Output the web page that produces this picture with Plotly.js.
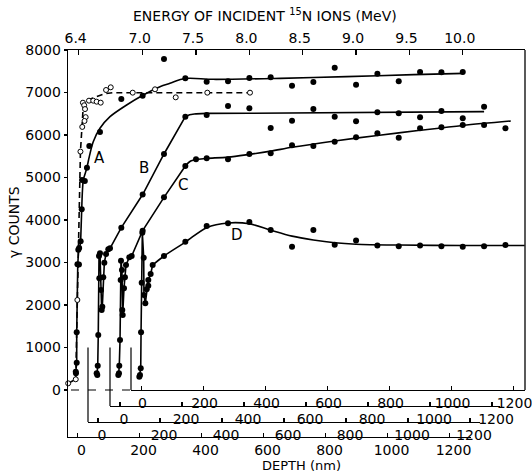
<!DOCTYPE html>
<html><head><meta charset="utf-8">
<script src="https://cdn.plot.ly/plotly-3.0.1.min.js"></script>
<style>html,body{margin:0;padding:0;background:#fff}#chart{width:532px;height:472px}</style>
</head><body><div id="chart"></div>
<script>
// ---------- data: incident energy (MeV) vs gamma counts ----------
// Curve A (filled points)
const aE = [6.373,6.375,6.382,6.382,6.389,6.403,6.397,6.405,6.419,6.429,6.432,6.458,6.478,6.500,6.600,6.800,7.000,7.200,7.400,7.600,7.800,8.000,8.200,8.400,8.600,8.800,9.000,9.200,9.400,9.600,9.800,10.000];
const aC = [430,395,643,1357,2960,2950,3300,3340,3500,4251,4940,4920,5231,5741,6071,6847,6925,7788,7333,7255,7263,7341,7357,7161,7247,7584,7184,7443,7263,7482,7475,7482];
const aEdgeE = [6.373,6.382,6.382,6.386,6.392,6.400,6.410,6.419,6.429];
const aEdgeC = [420,643,1357,2110,2960,3300,3350,3500,4251];
const aFitE = [6.429,6.436,6.444,6.476,6.500,6.537,6.600,6.694,6.850,7.006,7.162,7.256,7.397,7.66,8.29,8.91,9.54,10.01];
const aFitC = [4251,4700,4941,5216,5490,5842,6158,6431,6706,6941,7137,7216,7329,7310,7333,7373,7420,7451];
// Open circles and dashed curve
const oE = [6.302,6.373,6.388,6.417,6.434,6.440,6.452,6.460,6.466,6.455,6.497,6.537,6.569,6.607,6.657,6.701,6.907,7.116,7.310,7.606,8.006];
const oC = [157,252,2118,5610,6190,6760,6700,6610,6420,6330,6808,6808,6784,6761,7059,7122,6996,7075,6886,6996,6996];
const dashE = [6.302,6.373,6.388,6.417,6.434,6.445,6.49,6.56,6.64,6.72,8.006];
const dashC = [157,252,2118,5610,6300,6750,6830,6900,6970,6995,6995];
// Curve B
const bE = [6.569,6.575,6.579,6.584,6.594,6.591,6.600,6.610,6.616,6.622,6.631,6.641,6.657,6.678,6.694,6.800,7.000,7.200,7.400,7.600,7.800,8.000,8.200,8.400,8.600,8.800,9.000,9.200,9.400,9.600,9.800,10.000,10.200];
const bC = [392,353,573,1294,2627,3153,3216,2353,1882,1961,2651,2996,3200,3310,3333,3820,4600,5553,6431,6471,6682,6627,6165,6337,6612,6431,6322,6534,6510,6416,6565,6392,6667];
const bLineE = [6.572,6.579,6.584,6.591,6.600,6.610,6.616,6.622,6.631,6.641,6.657,6.678,6.694,6.800,7.000,7.200,7.400,7.440,7.500,7.600,8.000,9.000,10.200];
const bLineC = [370,573,1294,3153,3216,2353,1882,1961,2651,2996,3200,3310,3333,3820,4600,5553,6431,6478,6498,6508,6512,6525,6550];
// Curve C
const cE = [6.772,6.778,6.781,6.788,6.794,6.797,6.806,6.809,6.813,6.825,6.834,6.844,6.875,6.897,7.000,7.200,7.400,7.500,7.600,7.800,8.000,8.200,8.400,8.600,8.800,9.000,9.200,9.400,9.600,9.800,10.000,10.200,10.400];
const cC = [353,392,573,1176,2588,3043,2824,1882,1765,2392,2651,2941,3122,3153,3749,4533,5271,5427,5451,5427,5553,5569,5757,5741,5843,5945,6039,5937,6157,6180,6235,6235,6157];
const cEdgeE = [6.775,6.781,6.788,6.794,6.797,6.806,6.813,6.825,6.834,6.844,6.875,6.897,7.000,7.200,7.400];
const cEdgeC = [370,573,1176,2588,3043,2824,1765,2392,2651,2941,3122,3153,3749,4533,5271];
const cFitE = [7.400,7.45,7.52,7.6,7.8,8.0,8.2,8.4,8.8,9.2,9.6,10.0,10.45];
const cFitC = [5271,5390,5430,5450,5480,5545,5620,5710,5860,5990,6110,6225,6330];
// Curve D
const dE = [6.969,6.975,6.982,6.985,6.991,6.997,7.010,7.012,7.025,7.038,7.053,7.053,7.075,7.094,7.200,7.400,7.600,7.800,8.000,8.200,8.400,8.600,8.800,9.000,9.200,9.400,9.600,9.800,10.000,10.200,10.400];
const dC = [314,353,510,1357,2525,3700,3110,2235,2039,2369,2450,2588,2730,2941,3153,3490,3859,3922,3953,3765,3373,3765,3420,3520,3400,3380,3400,3380,3370,3380,3410];
const dEdgeE = [6.969,6.982,6.985,6.991,6.997,7.010,7.012,7.025,7.038,7.053,7.075,7.094];
const dEdgeC = [314,510,1357,2525,3700,3110,2235,2039,2369,2588,2730,2941];
const dFitE = [7.094,7.2,7.4,7.6,7.8,8.0,8.2,8.4,8.6,8.8,9.0,9.4,10.0,10.58];
const dFitC = [2941,3153,3480,3820,3930,3910,3760,3620,3530,3465,3430,3410,3400,3400];
// curve labels
const labelText = ['A','B','C','D'];
const labelE = [6.591,7.013,7.378,7.884];
const labelC = [5459,5224,4824,3647];
// axes
const energyTicks = [6.4,7.0,7.5,8.0,8.5,9.0,9.5,10.0];
const energyTickText = ['6.4','7.0','7.5','8.0','8.5','9.0','9.5','10.0'];
const countTicks = [0,1000,2000,3000,4000,5000,6000,7000,8000];
const depthTicks = [0,200,400,600,800,1000,1200];

// ---------- geometry ----------
const E0 = 6.3004, E1 = 10.5834;
const Y0 = -1106, Y1 = 8000;
const pos = v => (v - Y0) / (Y1 - Y0);
const levelB = -753, levelC = -376, levelD = 0;
const black = '#000';

function markers(x, y, open) {
  return {type:'scatter', mode:'markers', x, y, xaxis:'x', yaxis:'y', cliponaxis:false,
    marker:{size: open ? 5 : 6, color: open ? '#fff' : black, line:{color:black, width: open ? 1 : 0}},
    showlegend:false, hoverinfo:'skip'};
}
function line(x, y, shape, dash) {
  return {type:'scatter', mode:'lines', x, y, xaxis:'x', yaxis:'y',
    line:{color:black, width:1.6, shape: shape || 'linear', smoothing:0.9, dash: dash || 'solid'},
    showlegend:false, hoverinfo:'skip'};
}
function dummy(ax) { return {type:'scatter', mode:'markers', x:[0], y:[null], xaxis:ax, yaxis:'y', showlegend:false, hoverinfo:'skip'}; }

const traces = [
  line(dashE, dashC, 'linear', '6px,4px'),
  line(aEdgeE, aEdgeC), line(aFitE, aFitC, 'spline'),
  line(bLineE, bLineC),
  line(cEdgeE, cEdgeC), line(cFitE, cFitC, 'spline'),
  line(dEdgeE, dEdgeC), line(dFitE, dFitC, 'spline'),
  markers(oE, oC, true),
  markers(aE, aC), markers(bE, bC), markers(cE, cC), markers(dE, dC),
  dummy('x2'), dummy('x3'), dummy('x4'), dummy('x5')
];

const axCommon = {showgrid:false, zeroline:false, showline:true, linecolor:black, linewidth:1.3,
  tickcolor:black, tickwidth:1.2, fixedrange:true, tickfont:{size:14, color:black}};
const px2paper = px => (px - 68) / 457;

function depthAxis(dom0, dom1, zeroPx, extra) {
  const r0 = (dom0 - zeroPx) / 0.31, r1 = (dom1 - zeroPx) / 0.31;
  return Object.assign({}, axCommon, {domain:[px2paper(dom0), px2paper(dom1)], range:[r0, r1],
    side:'bottom', tickmode:'array', tickvals:depthTicks, ticks:'inside', ticklen:4, ticklabelshift:4,
    ticklabeloverflow:'allow'}, extra);
}

const layout = {
  width:532, height:472, margin:{l:68, r:7, t:50, b:35, pad:0},
  paper_bgcolor:'#fff', plot_bgcolor:'rgba(0,0,0,0)',
  font:{family:'DejaVu Sans, sans-serif', size:14, color:black},
  showlegend:false,
  xaxis: Object.assign({}, axCommon, {domain:[0,1], range:[E0,E1], side:'top', anchor:'y',
    tickmode:'array', tickvals:energyTicks, ticktext:energyTickText, ticks:'inside', ticklen:5, ticklabelshift:-3}),
  yaxis: Object.assign({}, axCommon, {domain:[0,1], range:[Y0,Y1], anchor:'x',
    tickmode:'array', tickvals:countTicks, ticks:'outside', ticklen:3}),
  xaxis2: depthAxis(68, 471, 77.5, {anchor:'y'}),
  xaxis3: depthAxis(88, 480, 98, {anchor:'free', position:pos(levelB)}),
  xaxis4: depthAxis(110, 500, 120, {anchor:'free', position:pos(levelC)}),
  xaxis5: depthAxis(131, 525, 141.5, {anchor:'free', position:pos(levelD), ticklabelshift:1}),
  shapes: [
    {type:'line', xref:'paper', yref:'y', x0:1, x1:1, y0:0, y1:Y1, line:{color:black, width:1.3}},
    {type:'line', xref:'x3 domain', yref:'y', x0:0, x1:0, y0:levelB, y1:1000, line:{color:black, width:1.2}},
    {type:'line', xref:'x4 domain', yref:'y', x0:0, x1:0, y0:levelC, y1:1000, line:{color:black, width:1.2}},
    {type:'line', xref:'x5 domain', yref:'y', x0:0, x1:0, y0:levelD, y1:1000, line:{color:black, width:1.2}},
    {type:'line', xref:'paper', yref:'y', x0:px2paper(71), x1:px2paper(131), y0:0, y1:0, line:{color:black, width:1.2, dash:'8px,9px'}}
  ],
  annotations: labelText.map((t, i) => ({text:t, x:labelE[i], y:labelC[i], xref:'x', yref:'y', showarrow:false, font:{size:15}}))
    .concat([
      {text:'ENERGY OF INCIDENT <sup>15</sup>N IONS (MeV)', xref:'paper', yref:'paper', x:px2paper(264.5), y:(437-15)/387,
       xanchor:'center', yanchor:'middle', showarrow:false, font:{size:14}},
      {text:'DEPTH (nm)', xref:'paper', yref:'paper', x:px2paper(301), y:(437-465)/387,
       xanchor:'center', yanchor:'middle', showarrow:false, font:{size:13}},
      {text:'γ COUNTS', xref:'paper', yref:'paper', x:px2paper(14), y:(437-222)/387,
       xanchor:'center', yanchor:'middle', showarrow:false, textangle:-90, font:{size:14}}
    ])
};

Plotly.newPlot('chart', traces, layout, {staticPlot:true, displayModeBar:false});
</script></body></html>
